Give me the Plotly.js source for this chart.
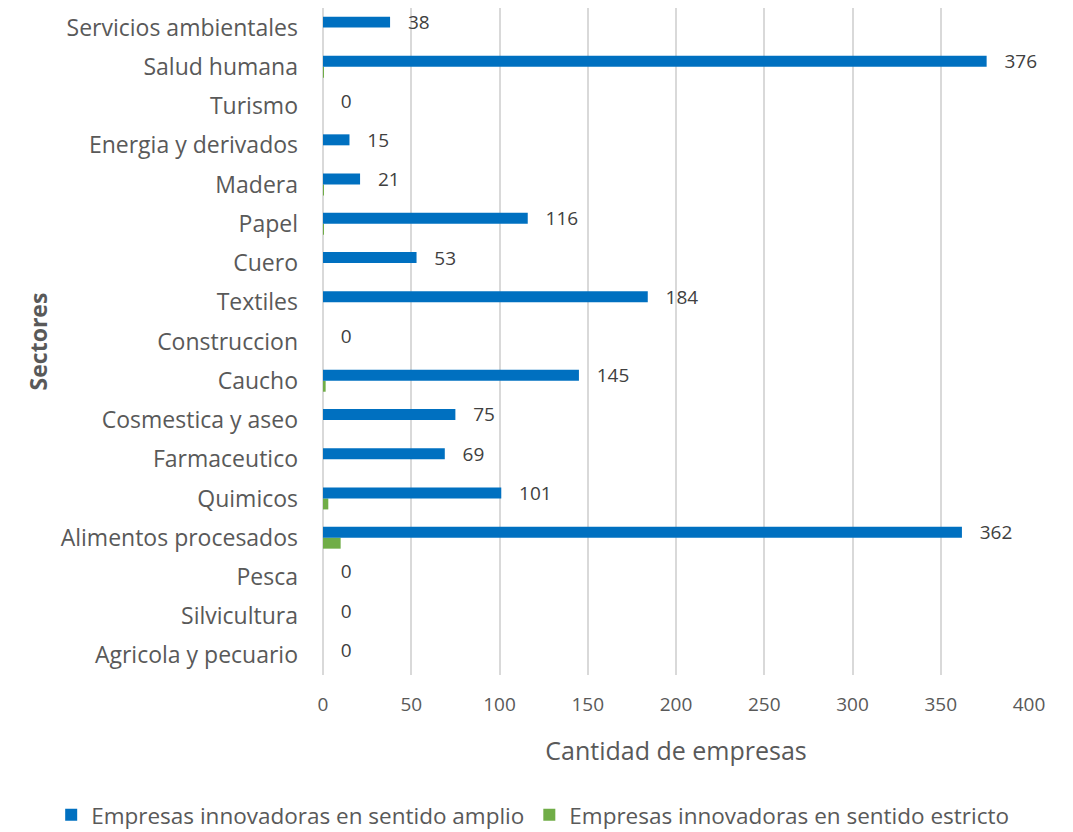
<!DOCTYPE html>
<html><head><meta charset="utf-8">
<script src="https://cdn.plot.ly/plotly-3.0.1.min.js"></script>
<style>body{margin:0;background:#fff}#chart{width:1073px;height:832px}</style>
</head><body><div id="chart"></div>
<script>
const categories = ["Agricola y pecuario","Silvicultura","Pesca","Alimentos procesados","Quimicos","Farmaceutico","Cosmestica y aseo","Caucho","Construccion","Textiles","Cuero","Papel","Madera","Energia y derivados","Turismo","Salud humana","Servicios ambientales"];
const amplio = [0,0,0,362,101,69,75,145,0,184,53,116,21,15,0,376,38];
const estricto = [0,0,0,10,3,0,0,1.5,0,0,0,0.3,0.3,0,0,0.4,0];
const seriesNames = ["Empresas innovadoras en sentido amplio","Empresas innovadoras en sentido estricto"];
const xTicks = [0,50,100,150,200,250,300,350,400];

const font = "Open Sans, Noto Sans, sans-serif";
const txt = '#595959';
const traces = [
  {type:'bar', orientation:'h', name:seriesNames[1], y:categories, x:estricto,
   marker:{color:'#70AD47'}, hoverinfo:'x'},
  {type:'bar', orientation:'h', name:seriesNames[0], y:categories, x:amplio,
   marker:{color:'#0070C0'},
   text: amplio.map(v=>'\u00a0\u00a0\u00a0'+v), textposition:'outside', cliponaxis:false,
   constraintext:'none',
   textfont:{size:19,color:'#404040',family:font}, hoverinfo:'x'}
];
const layout = {
  width:1073, height:832,
  margin:{l:323, r:44, t:8, b:157, autoexpand:false},
  barmode:'group', bargap:0.44, bargroupgap:0,
  font:{family:font, color:txt, size:18},
  paper_bgcolor:'#fff', plot_bgcolor:'#fff',
  xaxis:{range:[0,400], tickvals:xTicks, showgrid:true, gridcolor:'#D9D9D9', gridwidth:1.5,
         zeroline:true, zerolinecolor:'#D9D9D9', zerolinewidth:1.5, showline:false,
         ticks:'', tickfont:{size:19,color:txt}, ticklabelstandoff:16, automargin:false,
         title:{text:'Cantidad de empresas', font:{size:25,color:txt}, standoff:26}},
  yaxis:{showgrid:false, zeroline:false, showline:false, ticks:'', automargin:false,
         ticklabelstandoff:24,
         tickfont:{size:23,color:txt},
         title:{text:'<b>Sectores</b>', font:{size:23,color:txt}, standoff:6}},
  showlegend:true,
  legend:{orientation:'h', x:-0.385, xanchor:'left', y:-0.178, yanchor:'top',
          traceorder:'reversed', font:{size:22.5,color:txt}, itemwidth:30}
};
Plotly.newPlot('chart', traces, layout, {displayModeBar:false});
</script></body></html>
